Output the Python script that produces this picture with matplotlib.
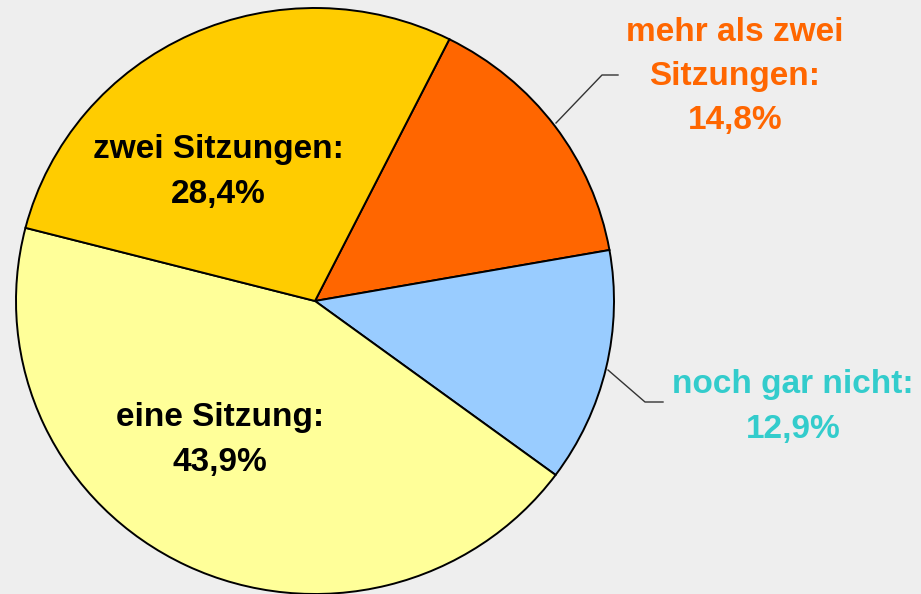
import matplotlib
matplotlib.use("Agg")
import matplotlib.pyplot as plt

categories = ["mehr als zwei Sitzungen", "noch gar nicht", "eine Sitzung", "zwei Sitzungen"]
label_text = ["mehr als zwei\nSitzungen:", "noch gar nicht:", "eine Sitzung:", "zwei Sitzungen:"]
values = [14.8, 12.9, 43.9, 28.4]
colors = ["#FF6600", "#99CCFF", "#FFFF99", "#FFCC00"]
text_colors = ["#FF6600", "#33CCCC", "#000000", "#000000"]

W, H = 921, 594
squash = 293 / 299  # vertical/horizontal radius ratio of the (slightly oval) pie

fig = plt.figure(figsize=(W / 100, H / 100), dpi=100, facecolor="#EEEEEE")
ax = fig.add_axes([0, 0, 1, 1])
ax.set_facecolor("#EEEEEE")

def py2d(py):
    return (H - py) / squash

cx, cy, r = 315, py2d(301), 299
ax.pie(values, colors=colors, startangle=63.3, counterclock=False,
       center=(cx, cy), radius=r, frame=True,
       wedgeprops=dict(edgecolor="black", linewidth=1.4))
ax.set_aspect("auto")
ax.set_xlim(0, W)
ax.set_ylim(0, H / squash)
ax.axis("off")

def fmt(v):
    return f"{v:.1f}".replace(".", ",") + "%"

# label positions in pixel coords (x, y from top)
pos = [(735, 76.5), (793, 407), (220, 440), (218, 172)]
font = dict(family=["Liberation Sans", "DejaVu Sans"], fontweight="bold", fontsize=24)
for lt, v, tc, (px, py) in zip(label_text, values, text_colors, pos):
    ax.text(px, py2d(py), lt + "\n" + fmt(v), color=tc, ha="center", va="center",
            linespacing=1.55, **font)

# leader lines
ax.plot([556, 602, 618], [py2d(123), py2d(75), py2d(75)], color="#333333", lw=1.0)
ax.plot([608, 645, 663], [py2d(370), py2d(402), py2d(402)], color="#333333", lw=1.0)

fig.savefig("out.png", dpi=100, facecolor=fig.get_facecolor())
